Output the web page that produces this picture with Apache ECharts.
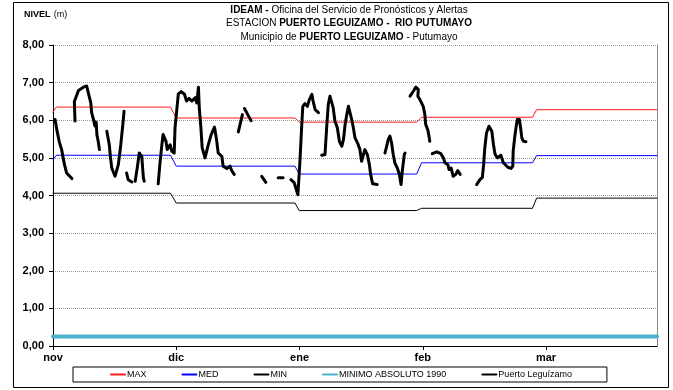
<!DOCTYPE html>
<html>
<head>
<meta charset="utf-8">
<script src="https://cdn.jsdelivr.net/npm/echarts@6/dist/echarts.min.js"></script>
<style>
  html, body { margin: 0; padding: 0; background: #fff; }
  #chart { width: 673px; height: 390px; }
</style>
</head>
<body>
<div id="chart"></div>
<script>
// x values are days counted from 1 nov
const months = ['nov', 'dic', 'ene', 'feb', 'mar'];
const monthDays = [0, 30, 60, 90, 120];

const maxLevel = [[0, 6.22], [0.8, 6.35], [28.6, 6.35], [30.0, 6.06], [58.9, 6.06], [59.9, 5.95],
  [88.5, 5.95], [89.7, 6.08], [116.7, 6.08], [117.7, 6.28], [147, 6.28]];
const medLevel = [[0, 4.95], [0.8, 5.07], [28.6, 5.07], [30.0, 4.78], [58.9, 4.78], [59.9, 4.57],
  [88.5, 4.57], [89.7, 4.87], [116.7, 4.87], [117.7, 5.06], [147, 5.06]];
const minLevel = [[0, 4.06], [28.6, 4.06], [30.0, 3.80], [58.9, 3.80], [59.9, 3.60],
  [88.5, 3.60], [89.7, 3.66], [116.7, 3.66], [117.7, 3.93], [147, 3.93]];
const minAbsoluto = [[0, 0.25], [147, 0.25]];

// observed levels, null = no record
const puertoLeguizamo = [
  [0.5, 6.02], [1.0, 5.71], [1.5, 5.44], [2.1, 5.22], [2.4, 5.04], [2.8, 4.82], [3.3, 4.60], [4.6, 4.45],
  null,
  [5.35, 5.98], [5.2, 6.50], [6.2, 6.79], [7.4, 6.88], [8.2, 6.91], [8.6, 6.73], [9.2, 6.46], [9.4, 6.20],
  [9.9, 6.0], [10.2, 5.85], [10.5, 5.95], [10.7, 5.6], [11.0, 5.44], [11.3, 5.22],
  null,
  [13.1, 5.71], [13.7, 5.35], [14.0, 5.0], [14.3, 4.73], [15.1, 4.51], [15.9, 4.82], [16.5, 5.35], [17.0, 5.89], [17.3, 6.24],
  null,
  [17.9, 4.60], [18.3, 4.42], [19.2, 4.36],
  null,
  [20.0, 4.38], [20.5, 4.73], [21.0, 5.13], [21.6, 5.04], [22.0, 4.47], [22.2, 4.38],
  null,
  [25.6, 4.31], [26.0, 4.82], [26.5, 5.35], [26.8, 5.62], [27.5, 5.44], [27.8, 5.22], [28.1, 5.27], [28.5, 5.35],
  [28.9, 5.18], [29.5, 5.13], [29.7, 5.80], [30.1, 6.24], [30.5, 6.70], [31.2, 6.76], [32.0, 6.69], [32.5, 6.51],
  [33.1, 6.58], [33.8, 6.51], [34.6, 6.60], [35.0, 6.46], [35.4, 6.88], [35.6, 6.33], [36.0, 5.80], [36.3, 5.27],
  [37.0, 5.0], [37.4, 5.04], [37.8, 5.35], [38.5, 5.62], [39.3, 5.82], [39.8, 5.49], [40.2, 5.13], [41.1, 5.04],
  [41.4, 4.78], [42.3, 4.72], [43.1, 4.78], [43.5, 4.66], [44.1, 4.56],
  null,
  [45.1, 5.69], [46.1, 6.15],
  null,
  [46.6, 6.31], [47.4, 6.15], [48.2, 5.99],
  null,
  [50.8, 4.51], [51.8, 4.35],
  null,
  [54.8, 4.47], [56.0, 4.47],
  null,
  [57.9, 4.42], [58.7, 4.34], [59.1, 4.20], [59.6, 4.02], [60.1, 4.91], [60.5, 5.80], [60.8, 6.37], [61.3, 6.44],
  [61.9, 6.37], [62.4, 6.55], [63.0, 6.69], [63.3, 6.51], [63.8, 6.28], [64.6, 6.20],
  null,
  [65.4, 5.07], [66.2, 5.09], [66.6, 5.80], [67.0, 6.42], [67.4, 6.64], [67.8, 6.60], [68.2, 6.33], [68.6, 5.98],
  [69.2, 5.80], [69.7, 5.44], [70.3, 5.31], [70.7, 5.49], [71.1, 5.89], [71.5, 6.15], [71.9, 6.37], [72.3, 6.33],
  [72.7, 6.02], [73.1, 5.80], [73.5, 5.53], [74.1, 5.40], [74.7, 5.22], [75.1, 4.91], [75.9, 5.22], [76.5, 5.09],
  [77.0, 4.82], [77.3, 4.56], [77.8, 4.31], [78.9, 4.29],
  null,
  [80.8, 5.13], [81.6, 5.49], [82.0, 5.58], [82.4, 5.40], [82.8, 5.09], [83.2, 4.87], [83.8, 4.73], [84.3, 4.56],
  [84.7, 4.29], [85.0, 4.64], [85.5, 5.09], [85.7, 5.13],
  null,
  [86.9, 6.64], [87.7, 6.77], [88.3, 6.88], [88.9, 6.82], [88.8, 6.64], [89.3, 6.55], [90.1, 6.37], [90.5, 6.15],
  [90.7, 5.89], [91.2, 5.75], [91.5, 5.58], [91.7, 5.44],
  null,
  [92.3, 5.11], [93.4, 5.16], [94.4, 5.11], [95.0, 5.0], [95.4, 4.87], [96.1, 4.82], [96.4, 4.69], [96.9, 4.73],
  [97.4, 4.51], [98.0, 4.56], [98.5, 4.66], [99.1, 4.56],
  null,
  [103.1, 4.29], [103.9, 4.42], [104.5, 4.48], [104.8, 4.82], [105.1, 5.27], [105.5, 5.66], [106.1, 5.84], [106.8, 5.71],
  [107.2, 5.35], [107.6, 5.09], [108.2, 5.0], [109.0, 5.07], [109.6, 4.87], [110.7, 4.75], [111.5, 4.72], [111.9, 4.78],
  [112.0, 5.18], [112.4, 5.58], [112.8, 5.89], [113.0, 6.02], [113.5, 6.02], [113.8, 5.80], [114.1, 5.53], [114.5, 5.44],
  [115.1, 5.43]
];

const FONT = "'Liberation Sans', Arial, sans-serif";

const chart = echarts.init(document.getElementById('chart'));

const lineSeries = (name, data, color, width, z) => ({
  name: name,
  type: 'line',
  data: data,
  symbol: 'none',
  z: z,
  connectNulls: false,
  lineStyle: { color: color, width: width, join: 'round', cap: 'round' },
  itemStyle: { color: color }
});

const option = {
  animation: false,
  backgroundColor: '#fff',
  title: {
    left: 349,
    top: 3,
    padding: 0,
    textAlign: 'center',
    text: '{b|IDEAM -} {n|Oficina del Servicio de Pronósticos y Alertas}\n' +
      '{n|ESTACION }{b|PUERTO LEGUIZAMO -  RIO PUTUMAYO}\n' +
      '{n|Municipio de }{b|PUERTO LEGUIZAMO}{n| - Putumayo}',
    textStyle: {
      fontSize: 10,
      fontWeight: 'normal',
      lineHeight: 13.5,
      color: '#000',
      fontFamily: FONT,
      rich: {
        b: { fontSize: 10, fontWeight: 'bold', fontFamily: FONT, color: '#000', lineHeight: 13.5 },
        n: { fontSize: 10, fontWeight: 'normal', fontFamily: FONT, color: '#000', lineHeight: 13.5 }
      }
    }
  },
  grid: { left: 53, right: 16, top: 45, bottom: 44 },
  xAxis: {
    type: 'value',
    min: 0,
    max: 147,
    interval: 30,
    axisLine: { show: true, lineStyle: { color: '#000', width: 1 } },
    axisTick: { show: true, length: 4, customValues: monthDays, lineStyle: { color: '#000' } },
    axisLabel: {
      customValues: monthDays,
      formatter: (v) => {
        const i = monthDays.indexOf(v);
        return i >= 0 ? months[i] : '';
      },
      fontFamily: FONT,
      fontWeight: 'bold',
      fontSize: 11,
      color: '#000',
      margin: 6
    },
    splitLine: { show: false }
  },
  yAxis: [
    {
      type: 'value',
      min: 0,
      max: 8,
      interval: 1,
      axisLine: { show: true, lineStyle: { color: '#000', width: 1 } },
      axisTick: { show: true, length: 4, lineStyle: { color: '#000' } },
      axisLabel: {
        formatter: (v) => v.toFixed(2).replace('.', ','),
        fontFamily: FONT,
        fontWeight: 'bold',
        fontSize: 11,
        color: '#000',
        margin: 9
      },
      splitLine: { show: true, lineStyle: { color: '#999', type: 'dotted', width: 1 } }
    },
    {
      type: 'value',
      position: 'right',
      min: 0,
      max: 8,
      axisLine: { show: true, lineStyle: { color: '#888', width: 1 } },
      axisTick: { show: false },
      axisLabel: { show: false },
      splitLine: { show: false }
    }
  ],
  legend: {
    left: 73,
    top: 367,
    orient: 'horizontal',
    itemWidth: 14,
    itemHeight: 8,
    itemGap: 35,
    padding: [3, 35, 3, 37],
    borderColor: '#000',
    borderWidth: 1,
    selectedMode: false,
    itemStyle: { opacity: 0 },
    textStyle: { fontFamily: FONT, fontSize: 9, color: '#000', padding: [0, 0, 0, -3] },
    data: ['MAX', 'MED', 'MIN', 'MINIMO ABSOLUTO 1990', 'Puerto Leguízamo']
  },
  graphic: [
    {
      type: 'rect',
      shape: { x: 13.5, y: 2.5, width: 655, height: 385 },
      style: { fill: 'none', stroke: '#000', lineWidth: 1 },
      silent: true
    },
    {
      type: 'text',
      left: 24,
      top: 9,
      style: {
        text: '{b|NIVEL} {n|(m)}',
        rich: {
          b: { fontFamily: FONT, fontWeight: 'bold', fontSize: 9, fill: '#000' },
          n: { fontFamily: FONT, fontSize: 9, fill: '#000' }
        }
      }
    }
  ],
  series: [
    lineSeries('MAX', maxLevel, '#ff1a1a', 1, 3),
    lineSeries('MED', medLevel, '#0000ff', 1, 3),
    lineSeries('MIN', minLevel, '#000000', 1, 3),
    lineSeries('MINIMO ABSOLUTO 1990', minAbsoluto, '#4bb0cc', 4, 3),
    lineSeries('Puerto Leguízamo', puertoLeguizamo.map((p) => (p === null ? [null, null] : p)), '#000000', 3, 5)
  ]
};

chart.setOption(option);
</script>
</body>
</html>
